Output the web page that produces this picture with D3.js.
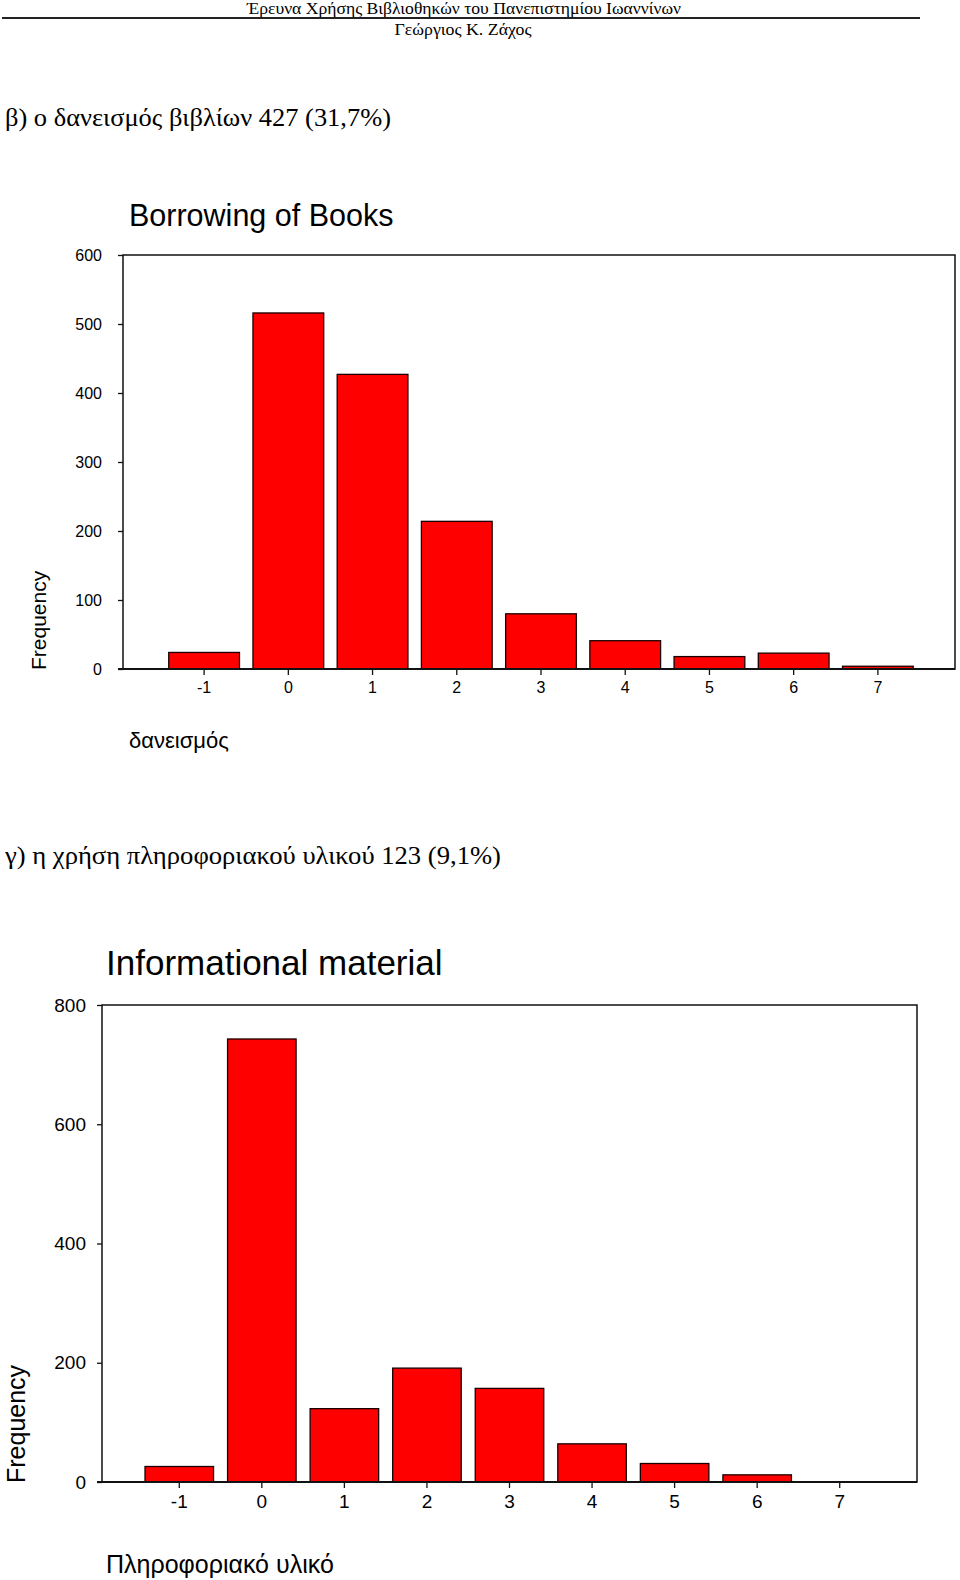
<!DOCTYPE html>
<html>
<head>
<meta charset="utf-8">
<script src="https://cdn.jsdelivr.net/npm/d3@7"></script>
<style>
  body { margin: 0; background: #fff; }
  .serif { font-family: "Liberation Serif", "Times New Roman", serif; }
  .sans { font-family: "Liberation Sans", Arial, sans-serif; }
</style>
</head>
<body>
<div id="page"></div>
<script>
// categories and counts
var categories = ["-1", "0", "1", "2", "3", "4", "5", "6", "7"];
var borrowingCounts = [24, 516, 427, 214, 80, 41, 18, 23, 4];
var infoCounts = [26, 743, 123, 191, 157, 64, 31, 12, 0];
var borrowingTicks = [0, 100, 200, 300, 400, 500, 600];
var infoTicks = [0, 200, 400, 600, 800];

var svg = d3.select("#page")
  .append("svg")
  .attr("width", 960)
  .attr("height", 1580);

svg.append("rect").attr("width", 960).attr("height", 1580).attr("fill", "#fff");

// page header
svg.append("text")
  .attr("class", "serif")
  .attr("x", 464).attr("y", 14)
  .attr("text-anchor", "middle")
  .attr("font-size", 17)
  .attr("textLength", 434).attr("lengthAdjust", "spacingAndGlyphs")
  .text("Έρευνα Χρήσης Βιβλιοθηκών του Πανεπιστημίου Ιωαννίνων");

svg.append("line")
  .attr("x1", 2).attr("x2", 920)
  .attr("y1", 18).attr("y2", 18)
  .attr("stroke", "#222").attr("stroke-width", 2);

svg.append("text")
  .attr("class", "serif")
  .attr("x", 463).attr("y", 35)
  .attr("text-anchor", "middle")
  .attr("font-size", 17)
  .attr("textLength", 137).attr("lengthAdjust", "spacingAndGlyphs")
  .text("Γεώργιος Κ. Ζάχος");

svg.append("text")
  .attr("class", "serif")
  .attr("x", 5).attr("y", 126)
  .attr("font-size", 26)
  .attr("textLength", 386).attr("lengthAdjust", "spacingAndGlyphs")
  .text("β) ο δανεισμός βιβλίων 427 (31,7%)");

svg.append("text")
  .attr("class", "serif")
  .attr("x", 5).attr("y", 864)
  .attr("font-size", 26)
  .attr("textLength", 496).attr("lengthAdjust", "spacingAndGlyphs")
  .text("γ) η χρήση πληροφοριακού υλικού 123 (9,1%)");

function drawChart(cfg) {
  var g = svg.append("g");

  var x = d3.scaleBand()
    .domain(categories)
    .range(cfg.bandRange)
    .paddingInner(cfg.pad)
    .paddingOuter(cfg.pad / 2);

  var y = d3.scaleLinear()
    .domain([0, d3.max(cfg.ticks)])
    .range([cfg.bottom, cfg.top]);

  // frame
  g.append("rect")
    .attr("x", cfg.left)
    .attr("y", cfg.top)
    .attr("width", cfg.right - cfg.left)
    .attr("height", cfg.bottom - cfg.top)
    .attr("fill", "none")
    .attr("stroke", "#111")
    .attr("stroke-width", 1.5);

  // bars
  g.selectAll("rect.bar")
    .data(cfg.values.map(function(v, i) { return { cat: categories[i], v: v }; }).filter(d => d.v > 0))
    .enter()
    .append("rect")
    .attr("class", "bar")
    .attr("x", d => x(d.cat))
    .attr("y", d => y(d.v))
    .attr("width", x.bandwidth())
    .attr("height", d => y(0) - y(d.v))
    .attr("fill", "#ff0000")
    .attr("stroke", "#1a0000")
    .attr("stroke-width", 1.3);

  // y axis
  var yAxis = g.append("g")
    .attr("transform", `translate(${cfg.left}, 0)`)
    .call(d3.axisLeft(y).tickValues(cfg.ticks).tickSize(5).tickPadding(cfg.yPad).tickFormat(d3.format("d")));
  yAxis.select(".domain").remove();
  yAxis.selectAll("line").attr("stroke", "#111").attr("stroke-width", 1.3);
  yAxis.selectAll("text")
    .attr("class", "sans")
    .attr("font-size", cfg.tickFont)
    .attr("fill", "#000");

  // x axis
  var xAxis = g.append("g")
    .attr("transform", `translate(0, ${cfg.bottom})`)
    .call(d3.axisBottom(x).tickSize(6).tickPadding(7).tickSizeOuter(0));
  xAxis.select(".domain")
    .attr("d", `M${cfg.left - 5},0H${cfg.right}`)
    .attr("stroke", "#111").attr("stroke-width", 2);
  xAxis.selectAll("line").attr("stroke", "#111").attr("stroke-width", 1.3);
  xAxis.selectAll("text")
    .attr("class", "sans")
    .attr("font-size", cfg.tickFont)
    .attr("fill", "#000");

  // titles
  g.append("text")
    .attr("class", "sans")
    .attr("x", cfg.titleX).attr("y", cfg.titleY)
    .attr("font-size", cfg.titleFont)
    .text(cfg.title);

  g.append("text")
    .attr("class", "sans")
    .attr("transform", `translate(${cfg.yLabelX}, ${cfg.bottom + 1}) rotate(-90)`)
    .attr("font-size", cfg.yLabelFont)
    .text("Frequency");

  g.append("text")
    .attr("class", "sans")
    .attr("x", cfg.titleX).attr("y", cfg.xLabelY)
    .attr("font-size", cfg.xLabelFont)
    .text(cfg.xLabel);
}

drawChart({
  values: borrowingCounts,
  ticks: borrowingTicks,
  left: 123, right: 955, top: 255, bottom: 669,
  bandRange: [162, 920], pad: 0.16,
  tickFont: 16, yPad: 16,
  title: "Borrowing of Books", titleX: 129, titleY: 226, titleFont: 30.5,
  yLabelX: 46, yLabelFont: 21,
  xLabel: "δανεισμός", xLabelY: 748, xLabelFont: 22
});

drawChart({
  values: infoCounts,
  ticks: infoTicks,
  left: 102, right: 917, top: 1005, bottom: 1482,
  bandRange: [138, 881], pad: 0.17,
  tickFont: 19, yPad: 11,
  title: "Informational material", titleX: 106, titleY: 975, titleFont: 35,
  yLabelX: 25, yLabelFont: 25,
  xLabel: "Πληροφοριακό υλικό", xLabelY: 1573, xLabelFont: 25
});
</script>
</body>
</html>
